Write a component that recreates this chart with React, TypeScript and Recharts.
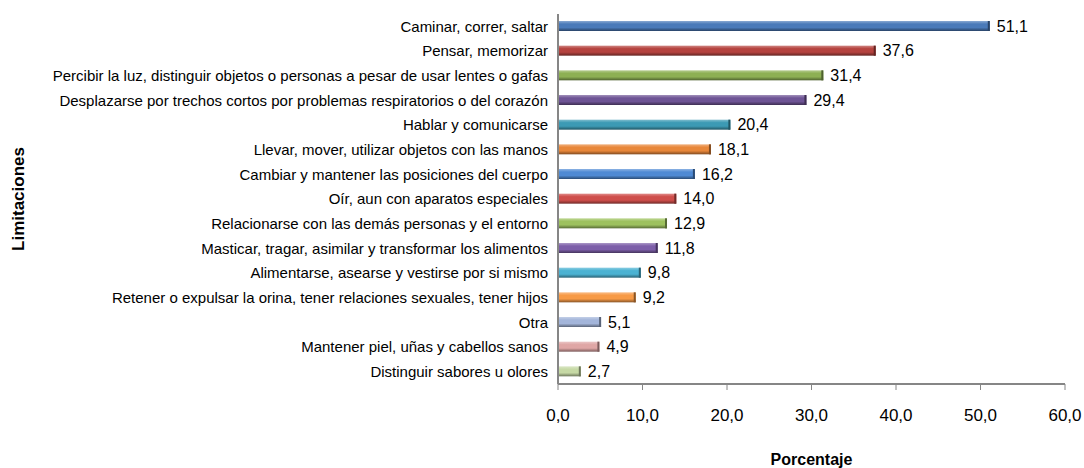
import { Bar, BarChart, LabelList, XAxis, YAxis } from 'recharts';

const categories = [
    'Caminar, correr, saltar',
    'Pensar, memorizar',
    'Percibir la luz, distinguir objetos o personas a pesar de usar lentes o gafas',
    'Desplazarse por trechos cortos por problemas respiratorios o del corazón',
    'Hablar y comunicarse',
    'Llevar, mover, utilizar objetos con las manos',
    'Cambiar y mantener las posiciones del cuerpo',
    'Oír, aun con aparatos especiales',
    'Relacionarse con las demás personas y el entorno',
    'Masticar, tragar, asimilar y transformar los alimentos',
    'Alimentarse, asearse y vestirse por si mismo',
    'Retener o expulsar la orina, tener relaciones sexuales, tener hijos',
    'Otra',
    'Mantener piel, uñas y cabellos sanos',
    'Distinguir sabores u olores',
];

const porcentajes = [51.1, 37.6, 31.4, 29.4, 20.4, 18.1, 16.2, 14.0, 12.9, 11.8, 9.8, 9.2, 5.1, 4.9, 2.7];

const xTicks = [0, 10, 20, 30, 40, 50, 60];

const colors = [
    '#4a7ab9', '#b5433f', '#8db053', '#6e5495', '#3c9ab4', '#e8873a',
    '#4f8ad4', '#cf4e4b', '#9dc15e', '#7d5fa9', '#4bb2d2', '#f79a46',
    '#a3b5da', '#dfa6a5', '#c6d9a5',
];

const data = categories.map((name, i) => ({ name, value: porcentajes[i] }));

const fmt = (v: number) => v.toFixed(1).replace('.', ',');

function mix(hex: string, target: number, t: number) {
    const n = parseInt(hex.slice(1), 16);
    const ch = [(n >> 16) & 255, (n >> 8) & 255, n & 255].map((c) => Math.round(c + (target - c) * t));
    return `rgb(${ch[0]},${ch[1]},${ch[2]})`;
}

function CylBar(props: any) {
    const { x, y, width, height, index } = props;
    const c = colors[index % colors.length];
    return (
        <g>
            <rect x={x} y={y} width={width} height={height} fill={`url(#cyl${index})`} />
            <rect x={x + width - 2} y={y} width={2} height={height} fill={mix(c, 0, 0.45)} />
        </g>
    );
}

export default function App() {
    return (
        <div style={{ position: 'absolute', left: 0, top: 0, fontFamily: '"Liberation Sans", Arial, sans-serif' }}>
            <BarChart
                width={1084}
                height={468}
                data={data}
                layout="vertical"
                margin={{ top: 14, right: 19, bottom: 0, left: 0 }}
            >
                <defs>
                    {colors.map((c, i) => (
                        <linearGradient key={i} id={`cyl${i}`} x1="0" y1="0" x2="0" y2="1">
                            <stop offset="0%" stopColor={mix(c, 255, 0.35)} />
                            <stop offset="30%" stopColor={c} />
                            <stop offset="65%" stopColor={c} />
                            <stop offset="100%" stopColor={mix(c, 0, 0.45)} />
                        </linearGradient>
                    ))}
                </defs>
                <XAxis
                    type="number"
                    domain={[0, 60]}
                    ticks={xTicks}
                    tickFormatter={fmt}
                    height={84}
                    stroke="#868686"
                    axisLine={{ stroke: '#868686', strokeWidth: 2 }}
                    tickLine={{ stroke: '#868686' }}
                    tick={{ fill: '#000', fontSize: 17 }}
                    tickSize={6}
                    tickMargin={19}
                    label={{
                        content: (p: any) => (
                            <text
                                x={p.viewBox.x + p.viewBox.width / 2}
                                y={465}
                                textAnchor="middle"
                                fontSize={16}
                                fontWeight="bold"
                                fill="#000"
                            >
                                Porcentaje
                            </text>
                        ),
                    }}
                />
                <YAxis
                    type="category"
                    dataKey="name"
                    width={558}
                    interval={0}
                    tickLine={false}
                    axisLine={{ stroke: '#868686', strokeWidth: 2 }}
                    tick={{ fill: '#000', fontSize: 15 }}
                    tickMargin={4}
                    label={{
                        content: (p: any) => {
                            const cy = p.viewBox.y + p.viewBox.height / 2;
                            return (
                                <text
                                    x={24}
                                    y={cy}
                                    transform={`rotate(-90, 24, ${cy})`}
                                    textAnchor="middle"
                                    fontSize={17}
                                    fontWeight="bold"
                                    fill="#000"
                                >
                                    Limitaciones
                                </text>
                            );
                        },
                    }}
                />
                <Bar dataKey="value" barSize={10} shape={CylBar} isAnimationActive={false}>
                    <LabelList dataKey="value" position="right" offset={7} formatter={fmt} fill="#000" fontSize={16} />
                </Bar>
            </BarChart>
        </div>
    );
}
